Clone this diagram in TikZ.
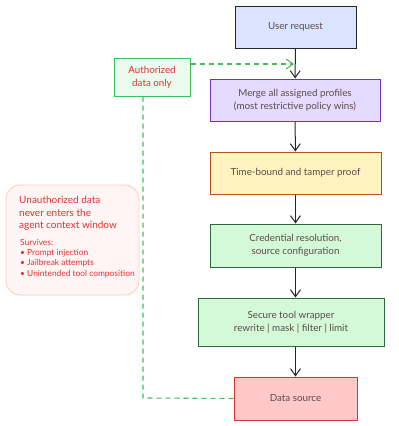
\documentclass[tikz,border=0pt]{standalone}
\usepackage{fontspec}
\setmainfont{Lato}
\usetikzlibrary{arrows.meta}
\definecolor{txt}{HTML}{5C4A4A}
\definecolor{redtxt}{HTML}{E03131}
\definecolor{ublue}{HTML}{DBE4FF}
\definecolor{mpurple}{HTML}{E5DBFF}
\definecolor{mpurpleb}{HTML}{7B2FBF}
\definecolor{tyellow}{HTML}{FFF3BF}
\definecolor{tbrown}{HTML}{B5541A}
\definecolor{cgreen}{HTML}{D3F9D8}
\definecolor{cgreenb}{HTML}{2B6A3A}
\definecolor{dred}{HTML}{FFC9C9}
\definecolor{dredb}{HTML}{E03131}
\definecolor{agreen}{HTML}{EBFBEE}
\definecolor{agreenb}{HTML}{40C057}
\definecolor{ufill}{HTML}{FFF5F5}
\definecolor{uborder}{HTML}{FFC9C9}
\definecolor{dashg}{HTML}{40C057}
\tikzset{
  box/.style={draw, line width=1pt, inner sep=0pt, text=txt, font=\fontsize{9.8}{13}\selectfont, align=center},
  flow/.style={draw=black!85, line width=1pt, -{Straight Barb[length=7pt,width=10pt,line width=1pt]}},
  gdash/.style={draw=dashg, line width=1.1pt, dash pattern=on 5pt off 4pt},
}
\begin{document}
\begin{tikzpicture}[x=1pt,y=-1pt]
\useasboundingbox (0,0) rectangle (399,426);
\node[box, fill=ublue, draw=black!85, minimum width=121pt, minimum height=42pt] (user) at (295.5,27) {User request};
\node[box, fill=mpurple, draw=mpurpleb, minimum width=170pt, minimum height=42pt] (merge) at (295,100) {Merge all assigned profiles\\(most restrictive policy wins)};
\node[box, fill=tyellow, draw=tbrown, minimum width=171pt, minimum height=42pt] (time) at (295.5,173) {Time-bound and tamper proof};
\node[box, fill=cgreen, draw=cgreenb, minimum width=171pt, minimum height=43pt] (cred) at (295.5,245.5) {Credential resolution,\\source configuration};
\node[box, fill=cgreen, draw=cgreenb, minimum width=186pt, minimum height=48pt] (wrap) at (291,322) {Secure tool wrapper\\rewrite | mask | filter | limit};
\node[box, fill=dred, draw=dredb, minimum width=123pt, minimum height=43pt] (data) at (295.5,398.5) {Data source};
\node[box, fill=agreen, draw=agreenb, text=redtxt, minimum width=76pt, minimum height=38pt] (auth) at (152,77) {Authorized\\data only};
\node[draw=uborder, fill=ufill, line width=0.8pt, rounded corners=14pt, minimum width=133pt, minimum height=110pt, inner sep=0pt] (unauth) at (72.5,240) {};
\node[anchor=north west, text=redtxt, align=left, inner sep=0pt, font=\fontsize{10}{12.5}\selectfont] (utitle) at (19,196) {Unauthorized data\\never enters the\\agent context window};
\node[anchor=north west, text=redtxt, align=left, inner sep=0pt, font=\fontsize{8.4}{10.3}\selectfont] (ulist) at (20,239) {Survives:\\\textbullet\ Prompt injection\\\textbullet\ Jailbreak attempts\\\textbullet\ Unintended tool composition};
\coordinate (c1) at (143,398);
\draw[flow] (user) -- (merge);
\draw[flow] (merge) -- (time);
\draw[flow] (time) -- (cred);
\draw[flow] (cred) -- (wrap.north -| cred.south);
\draw[flow] (wrap.south -| data.north) -- (data);
\coordinate (m1) at (294,64);
\draw[gdash, -{Straight Barb[length=7pt,width=10pt,line width=1pt]}] (auth.east |- m1) -- (m1);
\draw[gdash] (auth.south -| c1) -- (c1) -- (data.west);
\end{tikzpicture}
\end{document}
